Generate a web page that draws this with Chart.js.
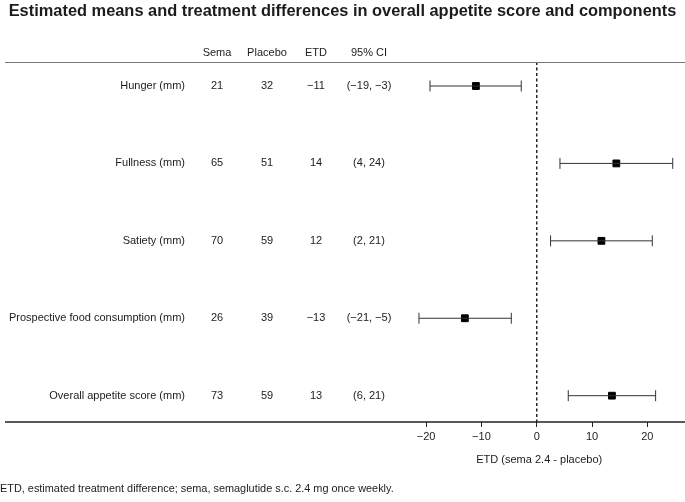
<!DOCTYPE html>
<html>
<head>
<meta charset="utf-8">
<script src="https://cdn.jsdelivr.net/npm/chart.js@4.4.1/dist/chart.umd.min.js"></script>
<style>
  html, body { margin: 0; padding: 0; background: #fff; }
  canvas { display: block; }
</style>
</head>
<body>
<canvas id="chart" width="685" height="502"></canvas>
<script>
  const titleText = "Estimated means and treatment differences in overall appetite score and components";
  const footnote = "ETD, estimated treatment difference; sema, semaglutide s.c. 2.4 mg once weekly.";
  const axisTitle = "ETD (sema 2.4 - placebo)";

  const headers = ["Sema", "Placebo", "ETD", "95% CI"];
  const outcomes = [
    "Hunger (mm)",
    "Fullness (mm)",
    "Satiety (mm)",
    "Prospective food consumption (mm)",
    "Overall appetite score (mm)",
  ];
  const semaMeans = ["21", "65", "70", "26", "73"];
  const placeboMeans = ["32", "51", "59", "39", "59"];
  const etdText = ["\u221211", "14", "12", "\u221213", "13"];
  const ciText = ["(\u221219, \u22123)", "(4, 24)", "(2, 21)", "(\u221221, \u22125)", "(6, 21)"];

  // point estimates and CI ends as plotted
  const etd = [-11.0, 14.4, 11.7, -13.0, 13.6];
  const ciLow = [-19.3, 4.2, 2.5, -21.3, 5.7];
  const ciHigh = [-2.8, 24.6, 20.9, -4.6, 21.5];

  const xTicks = [-20, -10, 0, 10, 20];
  const refValue = 0;

  const FONT = "'Liberation Sans', Arial, Helvetica, sans-serif";
  const INK = "#1c1c1c";
  const colX = [217, 267, 316, 369]; // column centres for the table
  const labelRight = 185;

  const ciSets = outcomes.map((name, i) => ({
    type: "line",
    label: name + " CI",
    data: [
      { x: ciLow[i], y: i },
      { x: ciHigh[i], y: i },
    ],
    borderColor: "#333",
    borderWidth: 1,
    pointStyle: "line",
    rotation: 90,
    pointRadius: 5.5,
    pointHitRadius: 0,
    pointBorderWidth: 1,
    pointBorderColor: "#333",
  }));

  const tablePlugin = {
    id: "tableText",
    afterDraw(chart) {
      const { ctx, chartArea, scales } = chart;
      const y = scales.y;
      ctx.save();

      // rules across the whole figure
      ctx.strokeStyle = "#777";
      ctx.lineWidth = 1;
      ctx.beginPath();
      ctx.moveTo(5, chartArea.top + 0.5);
      ctx.lineTo(685, chartArea.top + 0.5);
      ctx.stroke();
      ctx.strokeStyle = "#222";
      ctx.lineWidth = 1.5;
      ctx.beginPath();
      ctx.moveTo(5, chartArea.bottom);
      ctx.lineTo(685, chartArea.bottom);
      ctx.stroke();

      ctx.fillStyle = INK;
      ctx.textBaseline = "middle";

      ctx.font = "bold 16.4px " + FONT;
      ctx.textAlign = "center";
      ctx.fillText(titleText, 342.5, 11);

      ctx.font = "11px " + FONT;
      headers.forEach((h, j) => ctx.fillText(h, colX[j], 53));

      outcomes.forEach((name, i) => {
        const py = y.getPixelForValue(i);
        ctx.textAlign = "right";
        ctx.fillText(name, labelRight, py);
        ctx.textAlign = "center";
        ctx.fillText(semaMeans[i], colX[0], py);
        ctx.fillText(placeboMeans[i], colX[1], py);
        ctx.fillText(etdText[i], colX[2], py);
        ctx.fillText(ciText[i], colX[3], py);
      });

      ctx.font = "10.9px " + FONT;
      ctx.textAlign = "left";
      ctx.fillText(footnote, 0, 489);
      ctx.restore();
    },
  };

  const chart = new Chart(document.getElementById("chart"), {
    type: "scatter",
    data: {
      datasets: [
        {
          type: "line",
          label: "reference",
          data: [
            { x: refValue, y: -0.31 },
            { x: refValue, y: 4.34 },
          ],
          borderColor: "#222",
          borderWidth: 1.5,
          borderDash: [3, 2.5],
          pointRadius: 0,
          pointHitRadius: 0,
        },
        ...ciSets,
        {
          label: "ETD",
          data: etd.map((v, i) => ({ x: v, y: i })),
          pointStyle: "rect",
          pointRadius: 4.8,
          pointHitRadius: 0,
          pointBackgroundColor: "#000",
          pointBorderColor: "#000",
          pointBorderWidth: 1,
        },
      ],
    },
    options: {
      responsive: false,
      animation: false,
      devicePixelRatio: 1,
      layout: { padding: { left: 400, right: 0, top: 62, bottom: 30 } },
      plugins: {
        legend: { display: false },
        tooltip: { enabled: false },
      },
      scales: {
        x: {
          type: "linear",
          min: -24.73,
          max: 25.64,
          afterBuildTicks: (scale) => {
            scale.ticks = xTicks.map((v) => ({ value: v }));
          },
          afterFit: (scale) => {
            scale.height = 50;
          },
          border: { display: false },
          grid: {
            drawOnChartArea: false,
            drawTicks: true,
            tickLength: 5,
            color: "#222",
          },
          ticks: {
            padding: 3,
            color: INK,
            font: { family: FONT, size: 11 },
            maxRotation: 0,
            callback: (v) => String(v).replace("-", "\u2212"),
          },
          title: {
            display: true,
            text: axisTitle,
            color: INK,
            font: { family: FONT, size: 11 },
            padding: { top: 0, bottom: 5 },
          },
        },
        y: {
          type: "linear",
          display: false,
          reverse: true,
          min: -0.31,
          max: 4.34,
        },
      },
    },
    plugins: [tablePlugin],
  });
</script>
</body>
</html>
